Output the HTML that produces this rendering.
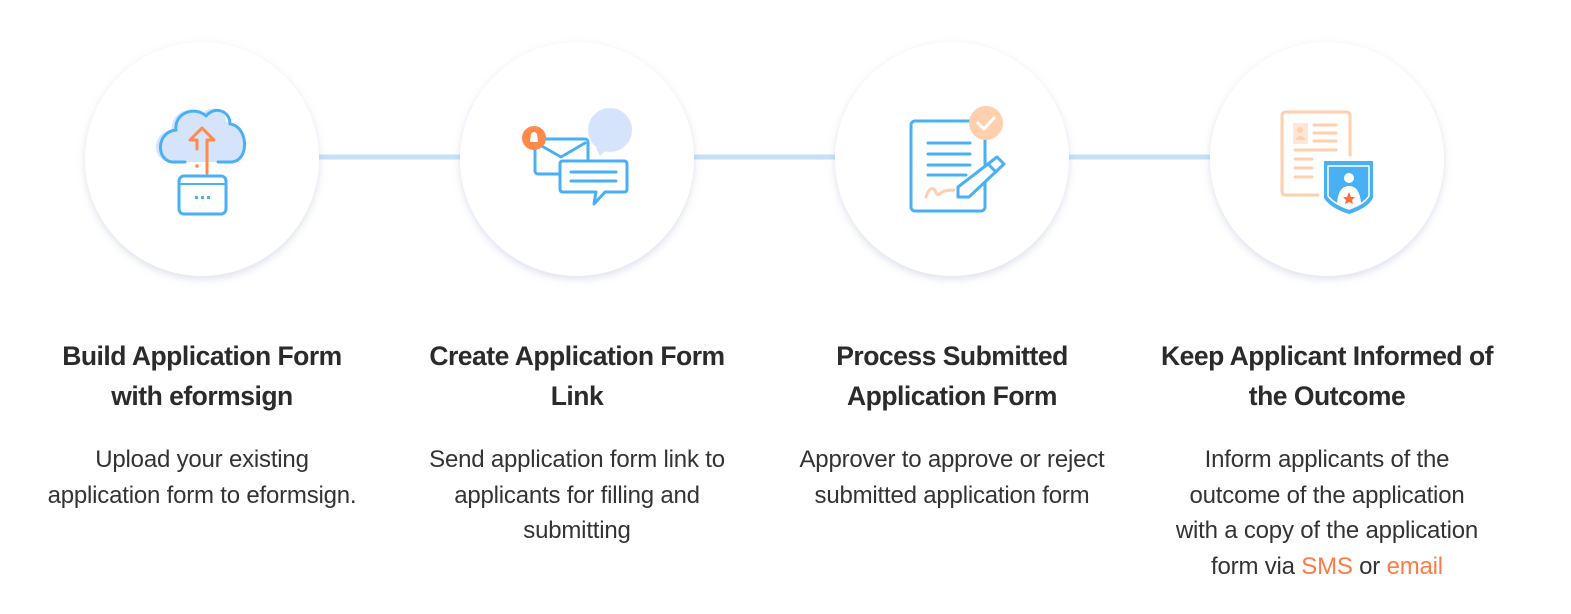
<!DOCTYPE html>
<html><head><meta charset="utf-8"><style>
html,body{margin:0;padding:0;background:#fff;width:1571px;height:614px;overflow:hidden;position:relative;font-family:"Liberation Sans",sans-serif;}
svg{position:absolute;left:0;top:0}
.t,.d{text-align:center;color:#2b2b2b;width:400px}
.t{position:absolute;top:336px;font-weight:bold;font-size:26.5px;line-height:40px;letter-spacing:-0.5px}
.d{position:absolute;top:442px;font-size:24px;line-height:35.5px;letter-spacing:-0.2px;color:#333}
.o{color:#ff7a45}
</style></head><body>
<svg width="1571" height="614" viewBox="0 0 1571 614">
<defs>
<filter id="sh" x="-20%" y="-20%" width="140%" height="140%">
<feDropShadow dx="0" dy="3" stdDeviation="4" flood-color="#9aa6d0" flood-opacity="0.35"/>
</filter>
</defs>
<g stroke="#c4e1fa" stroke-width="5">
<line x1="319" y1="157" x2="460" y2="157"/>
<line x1="694" y1="157" x2="835" y2="157"/>
<line x1="1069" y1="157" x2="1210" y2="157"/>
</g>
<g fill="#fff" filter="url(#sh)">
<circle cx="202" cy="159" r="117"/>
<circle cx="577" cy="159" r="117"/>
<circle cx="952" cy="159" r="117"/>
<circle cx="1327" cy="159" r="117"/>
</g>
<g stroke-linecap="round" stroke-linejoin="round">
<path d="M170 162 C150 160 152 132 172 130 C170 112 192 104 202 114 C210 104 226 108 226 122 C246 122 250 160 230 162 Z" fill="#d6e4fb" stroke="none"/>
<path d="M185 162 L172 162 C156 160 156 132 176 130 C174 112 196 106 206 116 C214 106 230 110 230 124 C248 126 250 160 232 162 L218 162" fill="none" stroke="#4ab0f5" stroke-width="3"/>
<path d="M197 149 L197 140 L190 140 L202 128 L214 140 L207 140 L207 173" fill="none" stroke="#ff8a4c" stroke-width="3"/>
<circle cx="197" cy="166" r="1.8" fill="#ff8a4c"/>
<rect x="179" y="176" width="47" height="38" rx="5" fill="#fff" stroke="#4ab0f5" stroke-width="3"/>
<line x1="180" y1="184" x2="225" y2="184" stroke="#4ab0f5" stroke-width="2"/>
<g fill="#4ab0f5"><rect x="195" y="196" width="3" height="3"/><rect x="201" y="196" width="3" height="3"/><rect x="207" y="196" width="3" height="3"/></g>
</g>
<g stroke-linecap="round" stroke-linejoin="round">
<circle cx="610" cy="130" r="22" fill="#d6e4fb"/>
<path d="M596 148 L600 156 L606 150 Z" fill="#d6e4fb"/>
<rect x="535" y="139" width="53" height="35" rx="3" fill="#fff" stroke="#4ab0f5" stroke-width="3"/>
<path d="M540 145 L561 157 L585 143" fill="none" stroke="#4ab0f5" stroke-width="3"/>
<circle cx="534" cy="138" r="12" fill="#ff8a4c"/>
<path d="M530 142 L531 134 Q534 130 537 134 L538 142 Z" fill="#fff"/>
<path d="M563 161 L624 161 Q627 161 627 164 L627 189 Q627 192 624 192 L605 192 L594 204 L596 192 L563 192 Q560 192 560 189 L560 164 Q560 161 563 161 Z" fill="#fff" stroke="#4ab0f5" stroke-width="3"/>
<line x1="571" y1="172" x2="616" y2="172" stroke="#4ab0f5" stroke-width="3"/>
<line x1="571" y1="181" x2="616" y2="181" stroke="#4ab0f5" stroke-width="3"/>
</g>
<g stroke-linecap="round" stroke-linejoin="round">
<rect x="911" y="121" width="74" height="90" rx="4" fill="#fff" stroke="#4ab0f5" stroke-width="3"/>
<circle cx="986" cy="123" r="17" fill="#ffcfae"/>
<path d="M978 123 L984 129 L994 118" fill="none" stroke="#fff" stroke-width="3"/>
<g stroke="#4ab0f5" stroke-width="3">
<line x1="928" y1="143" x2="970" y2="143"/><line x1="928" y1="154" x2="970" y2="154"/>
<line x1="928" y1="165" x2="970" y2="165"/><line x1="928" y1="175" x2="966" y2="175"/>
</g>
<path d="M926 197 Q930 185 935 190 Q937 198 942 192 Q946 190 954 190" fill="none" stroke="#ffcfae" stroke-width="3"/>
<path d="M997 157 L1004 164 L969 197 L958 197 L958 187 Z" fill="#fff" stroke="#4ab0f5" stroke-width="3"/>
<line x1="989" y1="165" x2="996" y2="172" stroke="#4ab0f5" stroke-width="3"/>
</g>
<g stroke-linecap="round" stroke-linejoin="round">
<path d="M1318 195 L1286 195 Q1282 195 1282 191 L1282 116 Q1282 112 1286 112 L1346 112 Q1350 112 1350 116 L1350 155" fill="none" stroke="#ffcfae" stroke-width="3"/>
<rect x="1293" y="123" width="15" height="21" fill="#ffe6d7"/>
<circle cx="1300" cy="130" r="3" fill="#ffcfae"/>
<path d="M1295 140 Q1300 132 1306 140 Z" fill="#ffcfae"/>
<g stroke="#ffcfae" stroke-width="3">
<line x1="1314" y1="125" x2="1336" y2="125"/><line x1="1314" y1="133" x2="1336" y2="133"/><line x1="1314" y1="141" x2="1336" y2="141"/>
<line x1="1295" y1="150" x2="1336" y2="150"/><line x1="1295" y1="159" x2="1312" y2="159"/><line x1="1295" y1="168" x2="1312" y2="168"/><line x1="1295" y1="177" x2="1312" y2="177"/>
</g>
<path d="M1324 161 L1373 161 L1373 198 Q1368 208 1349 214 Q1330 208 1324 198 Z" fill="#4ab0f5"/>
<path d="M1328 166 L1369 166 L1369 196 Q1364 204 1349 209 Q1334 204 1328 196 Z" fill="none" stroke="#fff" stroke-width="1.5"/>
<circle cx="1349" cy="178" r="5" fill="#fff"/>
<path d="M1337 204 Q1338 186 1349 186 Q1360 186 1361 204 Q1355 207 1349 209 Q1343 207 1337 204 Z" fill="#fff"/>
<path d="M1349 192 L1351 197 L1355 197 L1352 200 L1353 204 L1349 202 L1345 204 L1346 200 L1343 197 L1347 197 Z" fill="#ff6b3d"/>
</g>
</svg>
<div class="t" style="left:2px">Build Application Form<br>with eformsign</div>
<div class="d" style="left:2px">Upload your existing<br>application form to eformsign.</div>
<div class="t" style="left:377px">Create Application Form<br>Link</div>
<div class="d" style="left:377px">Send application form link to<br>applicants for filling and<br>submitting</div>
<div class="t" style="left:752px">Process Submitted<br>Application Form</div>
<div class="d" style="left:752px">Approver to approve or reject<br>submitted application form</div>
<div class="t" style="left:1127px">Keep Applicant Informed of<br>the Outcome</div>
<div class="d" style="left:1127px">Inform applicants of the<br>outcome of the application<br>with a copy of the application<br>form via <span class="o">SMS</span> or <span class="o">email</span></div>
</body></html>
